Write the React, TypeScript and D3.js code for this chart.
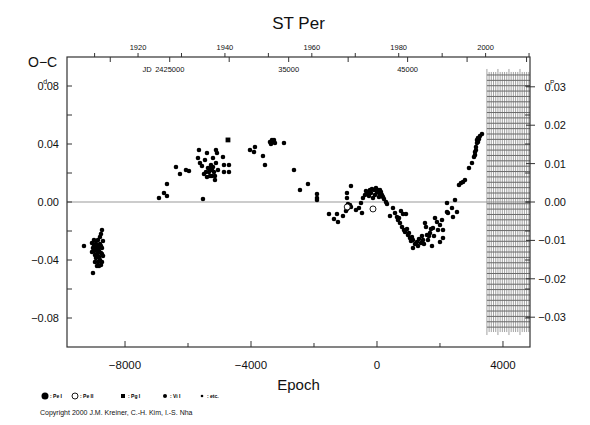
import React from "react";
import * as d3 from "d3";

// ---------- data ----------
const PERIOD = 2.648; // days
const EPOCH0_JD = 2442425;
const EPOCH0_YEAR = 1975.0;

// Visual (Vi I) minima: [epoch, O-C in days]
const viIPoints: [number, number][] = [
  [-9303, -0.0303], [-9017, -0.049], [-8731, -0.0193], [-8763, -0.0221], [-8795, -0.0241],
  [-8700, -0.0269], [-9049, -0.0283], [-8985, -0.0297], [-8953, -0.031], [-8922, -0.029],
  [-8890, -0.0324], [-8858, -0.0303], [-8826, -0.0338], [-8795, -0.029], [-8763, -0.0352],
  [-8731, -0.0317], [-8985, -0.0338], [-8953, -0.0366], [-8922, -0.0386], [-8890, -0.0359],
  [-8858, -0.0414], [-8826, -0.0379], [-8795, -0.04], [-8763, -0.0434], [-8731, -0.0414],
  [-9017, -0.0317], [-8922, -0.0331], [-8953, -0.0414], [-8890, -0.0441], [-8826, -0.0441],
  [-8985, -0.0262], [-8858, -0.0262], [-8763, -0.0303], [-8700, -0.0372], [-9049, -0.0345],
  [-8922, -0.0269], [-8826, -0.031], [-8731, -0.0359],
  [-6922, 0.0028], [-6763, 0.0062], [-6668, 0.0124], [-6668, 0.0041], [-6382, 0.0241],
  [-6255, 0.0193], [-6064, 0.0221], [-5969, 0.0214],
  [-5652, 0.0359], [-5683, 0.0303], [-5620, 0.0269], [-5556, 0.0248], [-5398, 0.0338],
  [-5461, 0.029], [-5525, 0.0021], [-5366, 0.0234], [-5302, 0.0234], [-5271, 0.0255],
  [-5334, 0.0207], [-5239, 0.0221], [-5207, 0.0241], [-5175, 0.0207], [-5429, 0.0207],
  [-5398, 0.0172], [-5302, 0.0179], [-5239, 0.0179], [-5144, 0.0152], [-5144, 0.0179],
  [-5112, 0.0359], [-5080, 0.0338], [-5207, 0.0303], [-5493, 0.0193], [-4890, 0.031],
  [-4858, 0.0255], [-4858, 0.0207], [-4699, 0.0255], [-4699, 0.0207], [-5048, 0.0221],
  [-5112, 0.0269],
  [-4032, 0.0359], [-3874, 0.0379], [-3905, 0.0345], [-3620, 0.0317], [-3556, 0.0255],
  [-3397, 0.0414], [-3334, 0.0428], [-3302, 0.0414], [-3270, 0.0428], [-3239, 0.0407],
  [-3366, 0.04], [-2953, 0.0407],
  [-2635, 0.0221], [-2191, 0.0124], [-2445, 0.0083], [-1905, 0.0055], [-1905, 0.0028],
  [-1905, 0.0014],
  [-1524, -0.0083], [-1365, -0.0117], [-1238, -0.0138], [-1270, -0.0083], [-1080, -0.0097],
  [-984, -0.0062], [-921, -0.0041], [-889, -0.0028], [-857, -0.0021], [-953, -0.0048],
  [-826, -0.0034], [-921, -0.0014], [-826, 0.011], [-953, 0.0062], [-953, 0.0028],
  [-508, -0.0007], [-476, -0.0076], [-445, 0.0028], [-381, 0.0048], [-349, 0.0076],
  [-286, 0.0062], [-222, 0.0083], [-127, 0.0028], [-64, 0.0048], [0, 0.0069],
  [64, 0.0062], [95, 0.0083], [159, 0.0048], [191, 0.0034], [286, 0.0], [318, -0.0014],
  [-254, 0.0041], [-191, 0.0062], [-95, 0.0083], [-32, 0.0097], [32, 0.0083],
  [-159, 0.009], [64, 0.0034], [127, 0.0069], [222, 0.0021], [-572, -0.0041], [-667, -0.0055],
  [413, -0.0097], [508, -0.0041], [572, -0.0076], [635, -0.0103], [667, -0.0124],
  [730, -0.0145], [826, -0.0083], [921, -0.0083], [794, -0.0172], [857, -0.0193],
  [953, -0.0186], [984, -0.0228], [1048, -0.0248], [1111, -0.0241], [1143, -0.0262],
  [1143, -0.0317], [1270, -0.0276], [1302, -0.0303], [1397, -0.0283], [1461, -0.0262],
  [1524, -0.0145], [1556, -0.0172], [1588, -0.0228], [1619, -0.0262], [1683, -0.0214],
  [1746, -0.0303], [1778, -0.0179], [1842, -0.011], [1905, -0.0138], [2000, -0.0276],
  [2000, -0.0159], [2064, -0.0124], [2096, -0.0193], [2096, -0.0248], [889, -0.0207],
  [1016, -0.0214], [1080, -0.0269], [1207, -0.029], [1334, -0.0255], [1429, -0.0234],
  [1492, -0.029], [1651, -0.0234], [1715, -0.0186], [1810, -0.0234], [1937, -0.0193],
  [699, -0.011], [762, -0.0062],
  [2223, -0.0007], [2223, -0.0069], [2254, -0.0076], [2381, -0.0041], [2413, -0.0103],
  [2477, 0.0014], [2540, -0.0069], [2604, 0.0117], [2667, 0.0131], [2731, 0.0138],
  [2794, 0.0152], [2921, 0.0234], [3016, 0.0269], [3080, 0.031], [3112, 0.0345],
  [3143, 0.0379], [3175, 0.0407], [3207, 0.0441], [3270, 0.0455], [3334, 0.0469],
  [3175, 0.0428], [3143, 0.0359], [3112, 0.0324], [3207, 0.0414], [3239, 0.0434],
];
// Photoelectric secondary (Pe II)
const peIIPoints: [number, number][] = [[-945, -0.0034], [-127, -0.0048]];
// Photographic (Pg I)
const pgIPoints: [number, number][] = [[-4731, 0.0428]];

// axis ticks / labels
const epochTicks = [-8000, -6000, -4000, -2000, 0, 2000, 4000];
const epochLabels = [-8000, -4000, 0, 4000];
const dayTicks = [-0.08, -0.06, -0.04, -0.02, 0, 0.02, 0.04, 0.06, 0.08];
const dayLabels = [-0.08, -0.04, 0, 0.04, 0.08];
const periodLabels = [-0.03, -0.02, -0.01, 0, 0.01, 0.02, 0.03];
const yearTicks = [1910, 1920, 1930, 1940, 1950, 1960, 1970, 1980, 1990, 2000, 2010];
const yearLabels = [1920, 1940, 1960, 1980, 2000];
const jdTicks = [2420000, 2425000, 2430000, 2435000, 2440000, 2445000, 2450000, 2455000];
const jdLabels: [number, string][] = [[2425000, "2425000"], [2435000, "35000"], [2445000, "45000"]];
const legendItems = [
  { key: "Pe I", label: ": Pe I" },
  { key: "Pe II", label: ": Pe II" },
  { key: "Pg I", label: ": Pg I" },
  { key: "Vi I", label: ": Vi I" },
  { key: "etc", label: ": etc." },
];
// future (not yet observed) hatched zone
const hatchEpoch: [number, number] = [3490, 4858];
const hatchOC: [number, number] = [-0.0883, 0.0876];

export default function App() {
  const W = 590, H = 425;
  const L = 67, R = 530, T = 57, B = 347;
  const x = d3.scaleLinear().domain([-9842, 4858]).range([L, R]);
  const y = d3.scaleLinear().domain([-0.1, 0.1]).range([B, T]);
  const yP = d3.scaleLinear().domain([-0.1 / PERIOD, 0.1 / PERIOD]).range([B, T]);
  const yearToE = (yr: number) => ((yr - EPOCH0_YEAR) * 365.25) / PERIOD;
  const jdToE = (jd: number) => (jd - EPOCH0_JD) / PERIOD;
  const font = "'Liberation Sans', Arial, sans-serif";

  const hx0 = x(hatchEpoch[0]), hx1 = x(hatchEpoch[1]);
  const hy0 = y(hatchOC[1]), hy1 = y(hatchOC[0]);
  const vLines = d3.range(hatchEpoch[0], hatchEpoch[1], 70);
  const hLines = d3.range(hatchOC[1], hatchOC[0], -0.0037);

  const inDom = (e: number) => e >= -9842 && e <= 4858;
  const fmt = (v: number) => (v < 0 ? "−" : "") + Math.abs(v).toFixed(2);

  return (
    <svg width={W} height={H} style={{ position: "absolute", left: 0, top: 0, background: "#fff" }} fontFamily={font}>
      <text x={(L + R) / 2} y={29} textAnchor="middle" fontSize={17} fill="#111">ST  Per</text>
      <text x={28} y={67} fontSize={14} fill="#111">O−C</text>

      <line x1={L} x2={R} y1={y(0)} y2={y(0)} stroke="#999" strokeWidth={1} />

      <g>
        {vLines.map((e, i) => (
          <line key={"v" + i} x1={x(e)} x2={x(e)}
            y1={hy0 - (i % 5 === 0 ? 6 : 3)} y2={hy1 + (i % 5 === 0 ? 5 : 2)}
            stroke="#8a8a8a" strokeWidth={0.8} />
        ))}
        {hLines.map((v, i) => (
          <line key={"h" + i} x1={hx0} x2={hx1} y1={y(v)} y2={y(v)} stroke="#6a6a6a" strokeWidth={1} />
        ))}
      </g>

      <rect x={L} y={T} width={R - L} height={B - T} fill="none" stroke="#333" strokeWidth={1.2} />

      {/* bottom axis */}
      {epochTicks.map((e) => (
        <line key={"bt" + e} x1={x(e)} x2={x(e)} y1={B} y2={B - (epochLabels.includes(e) ? 6 : 4)} stroke="#333" />
      ))}
      {epochLabels.map((e) => (
        <text key={"bl" + e} x={x(e)} y={369} textAnchor="middle" fontSize={11.5} fill="#111">
          {e < 0 ? "−" + Math.abs(e) : String(e)}
        </text>
      ))}
      <text x={(L + R) / 2} y={390} textAnchor="middle" fontSize={15} fill="#111">Epoch</text>

      {/* left axis */}
      {dayTicks.map((v) => (
        <line key={"lt" + v} x1={L} x2={L + 5} y1={y(v)} y2={y(v)} stroke="#333" />
      ))}
      {dayLabels.map((v) =>
        v === 0.08 ? (
          <text key={"ll" + v} x={59} y={y(v) + 4} textAnchor="end" fontSize={11} fill="#111">
            0.<tspan dx={-3.6} dy={-6} fontSize={7}>d</tspan><tspan dx={-0.3} dy={6}>08</tspan>
          </text>
        ) : (
          <text key={"ll" + v} x={59} y={y(v) + 4} textAnchor="end" fontSize={11} fill="#111">{fmt(v)}</text>
        )
      )}

      {/* right axis */}
      {dayTicks.map((v) => (
        <line key={"rt" + v} x1={R} x2={R - 5} y1={y(v)} y2={y(v)} stroke="#333" />
      ))}
      {periodLabels.map((v) => (
        <g key={"rp" + v}>
          <line x1={R - 4} x2={R + 5} y1={yP(v)} y2={yP(v)} stroke="#333" />
          {v === 0.03 ? (
            <text x={566} y={yP(v) + 4} textAnchor="end" fontSize={11} fill="#111">
              0.<tspan dx={-3.8} dy={-6} fontSize={6.5}>P</tspan><tspan dx={-0.6} dy={6}>03</tspan>
            </text>
          ) : (
            <text x={566} y={yP(v) + 4} textAnchor="end" fontSize={11} fill="#111">{fmt(v)}</text>
          )}
        </g>
      ))}

      {/* top axis: years (up) and JD (down) */}
      {yearTicks.filter((yr) => inDom(yearToE(yr))).map((yr) => (
        <line key={"yt" + yr} x1={x(yearToE(yr))} x2={x(yearToE(yr))} y1={T} y2={T - 4} stroke="#333" />
      ))}
      {yearLabels.map((yr) => (
        <text key={"yl" + yr} x={x(yearToE(yr))} y={50} textAnchor="middle" fontSize={7.5} fill="#111">{yr}</text>
      ))}
      {jdTicks.filter((jd) => inDom(jdToE(jd))).map((jd) => (
        <line key={"jt" + jd} x1={x(jdToE(jd))} x2={x(jdToE(jd))} y1={T} y2={T + 5} stroke="#333" />
      ))}
      {jdLabels.map(([jd, lab]) => (
        <text key={"jl" + jd} x={x(jdToE(jd))} y={72} textAnchor="middle" fontSize={7.5} fill="#111">{lab}</text>
      ))}
      <text x={x(jdToE(2425000)) - 18} y={72} textAnchor="end" fontSize={7.5} fill="#111">JD</text>

      {/* data */}
      {viIPoints.map(([e, v], i) => (
        <circle key={"p" + i} cx={x(e)} cy={y(v)} r={2.3} fill="#000" />
      ))}
      {peIIPoints.map(([e, v], i) => (
        <circle key={"o" + i} cx={x(e)} cy={y(v)} r={3} fill="#fff" stroke="#000" strokeWidth={0.9} />
      ))}
      {pgIPoints.map(([e, v], i) => (
        <rect key={"s" + i} x={x(e) - 2.4} y={y(v) - 2.4} width={4.8} height={4.8} fill="#000" />
      ))}

      {/* legend */}
      {legendItems.map((it, i) => {
        const lx = [45, 75, 123, 165, 202][i];
        const ly = 396;
        let sym;
        if (it.key === "Pe I") sym = <circle cx={lx} cy={ly} r={3.5} fill="#000" />;
        else if (it.key === "Pe II") sym = <circle cx={lx} cy={ly} r={3} fill="none" stroke="#000" strokeWidth={0.9} />;
        else if (it.key === "Pg I") sym = <rect x={lx - 2} y={ly - 2} width={4} height={4} fill="#000" />;
        else if (it.key === "Vi I") sym = <circle cx={lx} cy={ly} r={2} fill="#000" />;
        else sym = <circle cx={lx} cy={ly} r={1.3} fill="#000" />;
        return (
          <g key={it.key}>
            {sym}
            <text x={lx + 5} y={ly + 2} fontSize={5} fontWeight="bold">{it.label}</text>
          </g>
        );
      })}
      <text x={40} y={415} fontSize={7} fill="#111">Copyright 2000 J.M. Kreiner, C.-H. Kim, I.-S. Nha</text>
    </svg>
  );
}
